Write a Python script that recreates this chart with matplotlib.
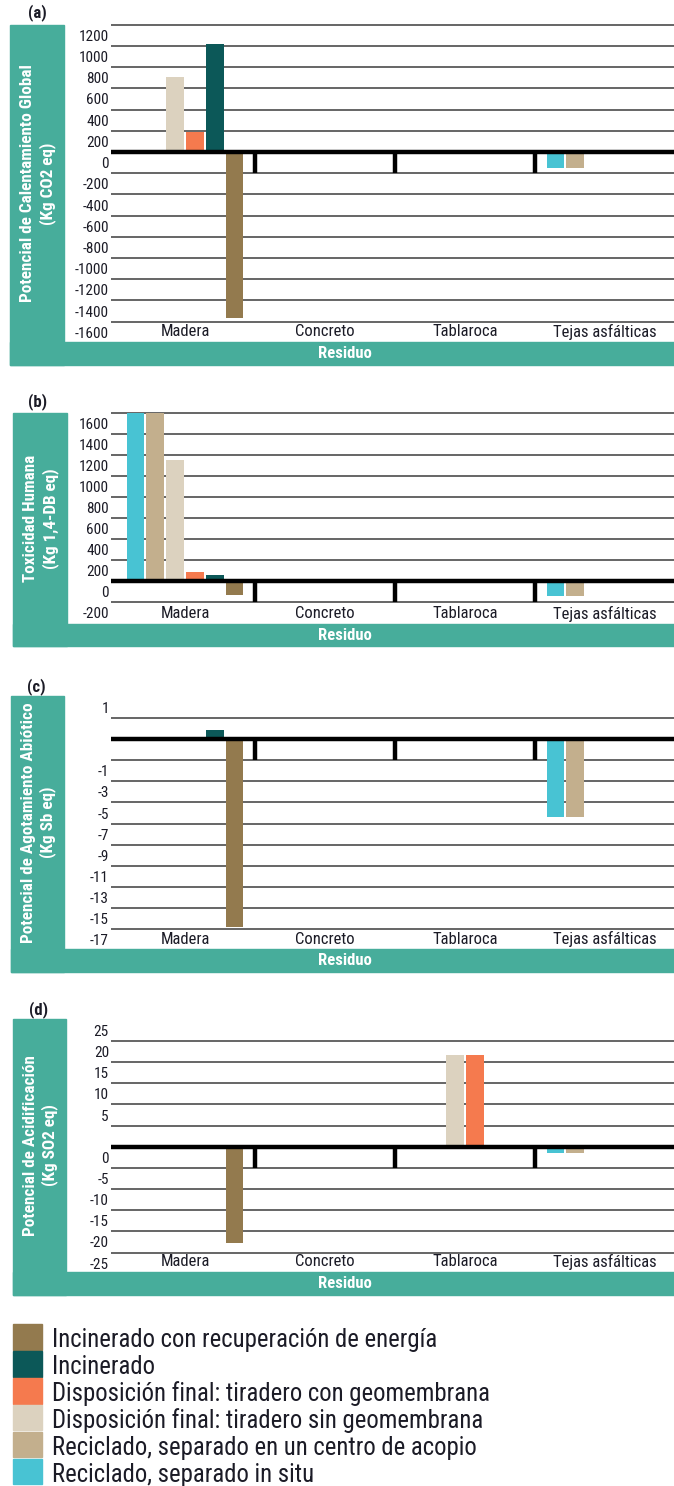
import matplotlib
matplotlib.use("Agg")
import matplotlib.pyplot as plt
import matplotlib.transforms as mtransforms
from matplotlib.patches import Rectangle
import numpy as np

residuos = ['Madera', 'Concreto', 'Tablaroca', 'Tejas asfálticas']
escenarios = ['Incinerado con recuperación de energía',
              'Incinerado',
              'Disposición final: tiradero con geomembrana',
              'Disposición final: tiradero sin geomembrana',
              'Reciclado, separado en un centro de acopio',
              'Reciclado, separado in situ']
colores = ['#937a4e', '#0c5858', '#f57a4e', '#dcd2bf', '#c3af8d', '#48c3d3']

# filas: residuo, columnas: escenario (mismo orden que la leyenda)
calentamiento = [[-1567, 1023, 184, 712, 0, 0],
                 [0, 0, 0, 0, 0, 0],
                 [0, 0, 0, 0, 0, 0],
                 [0, 0, 0, 0, -148, -148]]
toxicidad = [[-134, 60, 86, 1155, 1600, 1600],
             [0, 0, 0, 0, 0, 0],
             [0, 0, 0, 0, 0, 0],
             [0, 0, 0, 0, -143, -143]]
agotamiento = [[-17.76, 0.88, 0, 0, 0, 0],
               [0, 0, 0, 0, 0, 0],
               [0, 0, 0, 0, 0, 0],
               [0, 0, 0, 0, -7.35, -7.35]]
acidificacion = [[-22.7, 0, 0, 0, 0, 0],
                 [0, 0, 0, 0, 0, 0],
                 [0, 0, 21.8, 21.8, 0, 0],
                 [0, 0, 0, 0, -1.5, -1.5]]

ticks_a = [1200, 1000, 800, 600, 400, 200, 0, -200, -400, -600, -800,
           -1000, -1200, -1400, -1600]
ticks_b = [1600, 1400, 1200, 1000, 800, 600, 400, 200, 0, -200]
ticks_c = [2, 0, -2, -4, -6, -8, -10, -12, -14, -16, -18]
etiquetas_c = ['1', '', '-1', '-3', '-5', '-7', '-9', '-11', '-13', '-15', '-17']
ticks_d = [25, 20, 15, 10, 5, 0, -5, -10, -15, -20, -25]

plt.rcParams['font.family'] = ['Roboto Condensed', 'Liberation Sans Narrow',
                               'DejaVu Sans']

TEAL = '#47ad9b'
TEXTO = '#1b1b26'
W, H = 674, 1486
fig = plt.figure(figsize=(W / 100, H / 100), dpi=100)


def fx(px):
    return px / W


def fy(py):
    return 1 - py / H


paneles = [
    dict(letra='(a)', valores=calentamiento, ticks=ticks_a, etiquetas=None,
         ylabel='Potencial de Calentamiento Global\n(Kg CO2 eq)',
         letra_xy=(37, 13), banda=(10, 64, 25, 365), blanco=342, top=20,
         ylim=(-1792, 1245), arriba=False),
    dict(letra='(b)', valores=toxicidad, ticks=ticks_b, etiquetas=None,
         ylabel='Toxicidad Humana\n(Kg 1,4-DB eq)',
         letra_xy=(38, 402), banda=(13, 67, 413, 646), blanco=624, top=409,
         ylim=(-410, 1641), arriba=False),
    dict(letra='(c)', valores=agotamiento, ticks=ticks_c, etiquetas=etiquetas_c,
         ylabel='Potencial de Agotamiento Abiótico\n(Kg Sb eq)',
         letra_xy=(36, 687), banda=(11, 64, 696, 972), blanco=949, top=698,
         ylim=(-19.87, 3.88), arriba=True),
    dict(letra='(d)', valores=acidificacion, ticks=ticks_d, etiquetas=None,
         ylabel='Potencial de Acidificación\n(Kg SO2 eq)',
         letra_xy=(39, 1010), banda=(13, 66, 1019, 1295), blanco=1272, top=1022,
         ylim=(-29.6, 29.5), arriba=True),
]

n_esc = len(escenarios)
paso_barra = 0.1415
ancho_barra = 0.127
x = np.arange(len(residuos))
medio_paso = 0.106  # pulgadas

for p in paneles:
    bl, br, bt, bb = p['banda']
    # marco en L de color verde azulado
    fig.patches.append(Rectangle((fx(bl), fy(bb)), fx(br) - fx(bl), (bb - bt) / H,
                                 transform=fig.transFigure, color=TEAL, zorder=0))
    fig.patches.append(Rectangle((fx(bl), fy(bb)), 1 - fx(bl), (bb - p['blanco']) / H,
                                 transform=fig.transFigure, color=TEAL, zorder=0))
    fig.text(fx(345), fy((p['blanco'] + bb) / 2), 'Residuo', color='white',
             fontsize=12, fontweight='bold', ha='center', va='center')
    fig.text(fx((bl + br) / 2 + 1), fy((bt + p['blanco']) / 2), p['ylabel'],
             color='white', fontsize=12.3, fontweight='bold', rotation=90,
             ha='center', va='center', linespacing=1.3, multialignment='center')
    fig.text(fx(p['letra_xy'][0]), fy(p['letra_xy'][1]), p['letra'],
             fontsize=12, fontweight='bold', ha='center', va='center', color=TEXTO)

    ax = fig.add_axes([fx(111), fy(p['blanco']), 1 - fx(111),
                       (p['blanco'] - p['top']) / H])
    ax.set_facecolor('none')
    for s in ax.spines.values():
        s.set_visible(False)
    ax.set_xlim(-0.529, 3.493)
    ax.set_ylim(*p['ylim'])

    vals = np.array(p['valores'], dtype=float)
    for j in range(n_esc):
        pos = (n_esc - 1 - j) - (n_esc - 1) / 2
        ax.bar(x + pos * paso_barra, vals[:, j], width=ancho_barra,
               color=colores[j], zorder=2)

    ticks = p['ticks']
    etiquetas = p['etiquetas'] or [str(t) for t in ticks]
    ax.set_yticks(ticks, etiquetas)
    ax.set_xticks([])
    ax.yaxis.grid(True, color='#3c3c3c', linewidth=1.1, zorder=1)
    ax.set_axisbelow(True)
    ax.tick_params(axis='y', length=0, pad=1.5, labelsize=11, labelcolor=TEXTO)
    for t, lab in zip(ticks, ax.get_yticklabels()):
        dy = medio_paso if (p['arriba'] and t > 0) else -medio_paso
        lab.set_transform(lab.get_transform() +
                          mtransforms.ScaledTranslation(0, dy, fig.dpi_scale_trans))

    # eje de categorías en cero y separadores entre residuos
    paso = ticks[0] - ticks[1]
    ax.axhline(0, color='black', linewidth=3.2, zorder=3)
    for sep in x[:-1] + 0.5:
        ax.plot([sep, sep], [0, -paso], color='black', linewidth=3.2,
                solid_capstyle='butt', zorder=3)

    trans = ax.get_xaxis_transform() + mtransforms.ScaledTranslation(
        0, 0.10, fig.dpi_scale_trans)
    for xi, nombre in zip(x, residuos):
        ax.text(xi, 0, nombre, transform=trans, ha='center', va='center',
                fontsize=12, color=TEXTO)

# leyenda: cuadros de color con su escenario a la derecha
fila_top, fila_paso, cuadro_alto = 1324.3, 26.85, 25.5
for i, (nombre, c) in enumerate(zip(escenarios, colores)):
    y0 = fila_top + i * fila_paso
    fig.patches.append(Rectangle((fx(13), fy(y0 + cuadro_alto)), fx(42) - fx(13),
                                 cuadro_alto / H, transform=fig.transFigure,
                                 color=c, zorder=1))
    fig.text(fx(52), fy(y0 + cuadro_alto - 2.3), nombre, fontsize=17.8,
             color=TEXTO, ha='left', va='baseline')

fig.savefig('out.png', dpi=100, facecolor='white')
